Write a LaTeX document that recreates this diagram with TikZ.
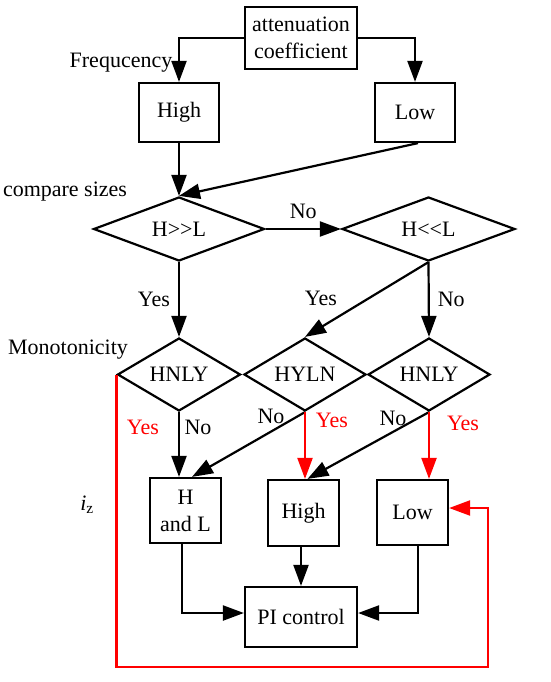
\documentclass[tikz,border=0pt]{standalone}
\usepackage{fontspec}
\setmainfont{Liberation Serif}
\usetikzlibrary{shapes.geometric,arrows.meta}
\definecolor{myred}{RGB}{255,0,0}
\begin{document}
\begin{tikzpicture}[x=1pt,y=-1pt,
  every node/.style={font=\fontsize{22}{27}\selectfont},
  box/.style={draw,line width=2.2pt,rectangle,inner sep=0pt,align=center},
  dia/.style={draw,line width=2.2pt,diamond,inner sep=0pt},
  conn/.style={line width=2.2pt,-{Triangle[length=21pt,width=15pt]}},
  rconn/.style={conn,draw=myred},
  lbl/.style={inner sep=0pt}
]
\useasboundingbox (0,0) rectangle (550,682);
% boxes
\node[box,minimum width=112pt,minimum height=62pt] (top) at (301,38) {attenuation\\coefficient};
\node[box,minimum width=80pt,minimum height=59pt] (high) at (179,112.5) {High};
\node[box,minimum width=80pt,minimum height=59pt] (low) at (415,112.5) {Low};
% diamonds
\node[dia,minimum width=171pt,minimum height=64pt,aspect=2.67] (d1) at (179,229) {H>{}>L};
\node[dia,minimum width=173pt,minimum height=64pt,aspect=2.67] (d2) at (428.5,229) {H<{}<L};
\node[dia,minimum width=123pt,minimum height=73pt,aspect=1.68] (d3) at (179,374.5) {HNLY};
\node[dia,minimum width=122pt,minimum height=73pt,aspect=1.68] (d4) at (305,374.5) {HYLN};
\node[dia,minimum width=122pt,minimum height=73pt,aspect=1.68] (d5) at (429,374.5) {HNLY};
% bottom boxes
\node[box,minimum width=71pt,minimum height=65pt] (b1) at (185.5,510.5) {H\\and L};
\node[box,minimum width=71pt,minimum height=66pt] (b2) at (303.5,513) {High};
\node[box,minimum width=71pt,minimum height=65pt] (b3) at (412.5,512.5) {Low};
\node[box,minimum width=112pt,minimum height=60pt] (pi) at (301,617) {PI control};
% side labels
\node[lbl] (lf) at (121,63) {Frequcency};
\node[lbl] (lc) at (65,192) {compare sizes};
\node[lbl] (lm) at (68,350) {Monotonicity};
\node[lbl] (li) at (87,505) {\itshape i\upshape\textsubscript{z}};
% connectors
\draw[conn] (top.west) -| (high.north);
\draw[conn] (top.east) -| (low.north);
\draw[conn] (high.south) -- (d1.north);
\draw[conn] ([xshift=3pt]low.south) -- (d1.north);
\draw[conn] (d1.east) -- node[lbl,above=9pt] (lno1) {No} (d2.west);
\draw[conn] (d1.south) -- node[lbl,left=8pt] (lyes1) {Yes} (d3.north);
\draw[conn] (d2.south) -- (d4.north);
\node[lbl] (lyes2) at (321,298) {Yes};
\draw[conn] (d2.south) -- node[lbl,right=8pt] (lno2) {No} (d5.north);
\draw[conn] (d3.south) -- (d3.south |- b1.north);
\node[lbl] (lno3) at (198,427) {No};
\draw[conn] (d4.south) -- ([xshift=6.5pt]b1.north);
\node[lbl] (lno4) at (271,416) {No};
\draw[rconn] (d4.south) -- (d4.south |- b2.north);
\node[lbl,text=myred] (lyes4) at (332,420) {Yes};
\draw[conn] (d5.south) -- ([xshift=4pt]b2.north);
\node[lbl] (lno5) at (393,418) {No};
\draw[rconn] (d5.south) -- (d5.south |- b3.north);
\node[lbl,text=myred] (lyes5) at (463,423) {Yes};
\node[lbl,text=myred] (lyes3) at (143,427) {Yes};
\draw[conn] ([xshift=-3.5pt]b1.south) |- ([yshift=4pt]pi.west);
\draw[conn] (pi.north |- b2.south) -- (pi.north);
\draw[conn] ([xshift=5.5pt]b3.south) |- ([yshift=4pt]pi.east);
\coordinate (c1) at (118,667);
\coordinate (c2) at (488,667);
\draw[rconn] (d3.west) -- (d3.west |- c1) -- (c2) |- ([yshift=4.5pt]b3.east);
\end{tikzpicture}
\end{document}
